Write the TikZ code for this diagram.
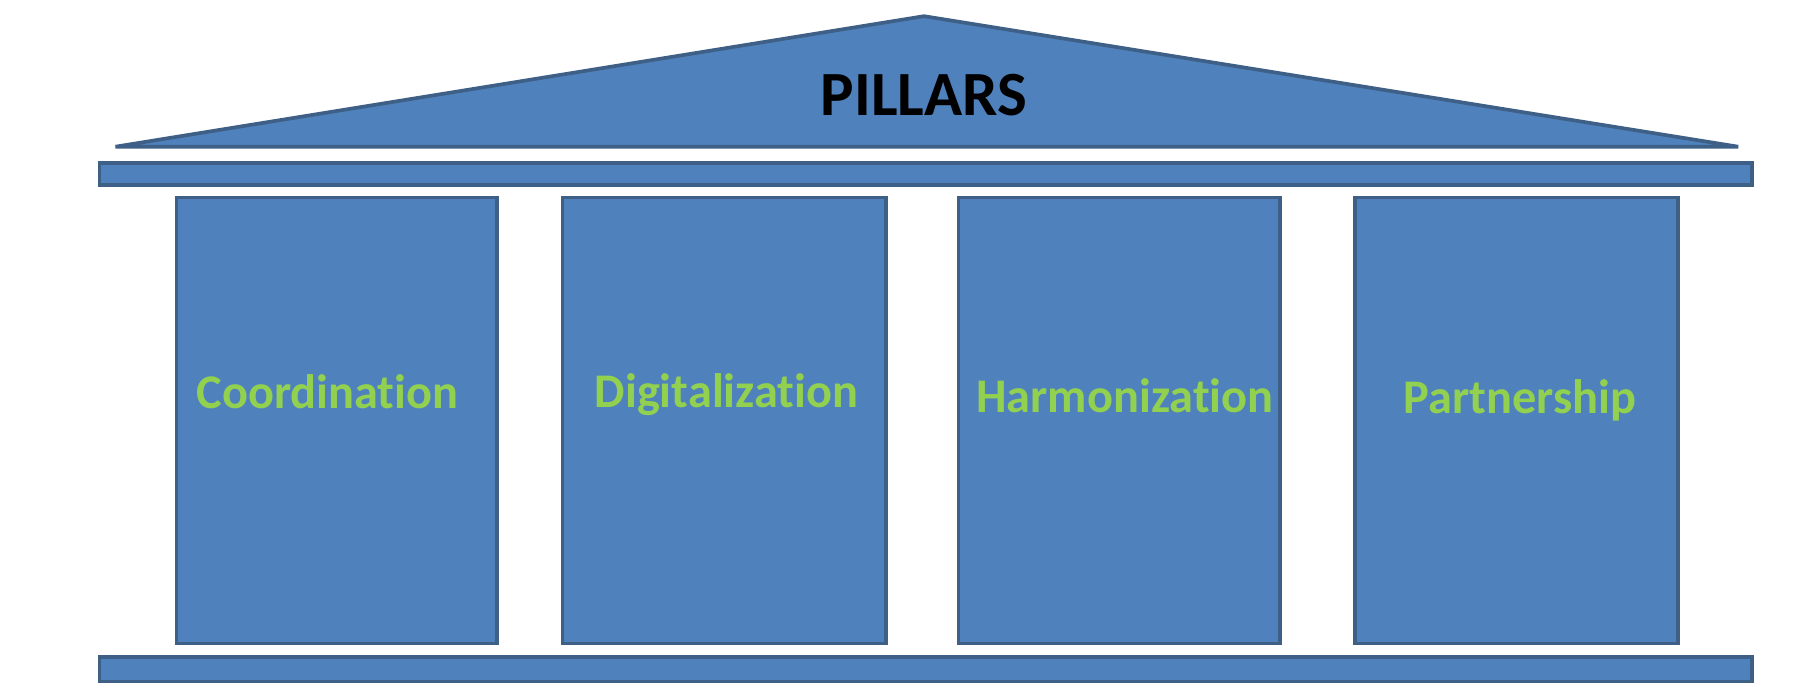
\documentclass[tikz,border=0pt]{standalone}
\usepackage{fontspec}
\setmainfont[Ligatures=NoCommon]{Carlito}
\usepackage{tikz}

\definecolor{roofblue}{HTML}{4F81BD}
\definecolor{edgeblue}{HTML}{3E5F86}
\definecolor{labelgreen}{HTML}{92D050}

\tikzset{
  part/.style={fill=roofblue, draw=edgeblue, line width=0.9pt},
  pillar/.style={part, rectangle, inner sep=0pt, minimum height=3.86cm},
  pillarlabel/.style={text=labelgreen, font=\fontsize{11.9}{14}\selectfont\bfseries, inner sep=0pt}
}

\begin{document}
\begin{tikzpicture}[x=0.01cm, y=-0.01cm]
            \useasboundingbox (0,0) rectangle (1568,597);

            % Roof
            \draw[part] (100,127) -- (800,14) -- (1505,127) -- cycle;
            \node[font=\fontsize{15.5}{18}\selectfont\bfseries] (title) at (800,82) {PILLARS};

            % Top and bottom beams
            \draw[part] (86,141) rectangle (1517,160);
            \draw[part] (86,569) rectangle (1517,590);

            % Pillars
            \node[pillar, minimum width=2.77cm] (coord) at (291.5,364) {};
            \node[pillar, minimum width=2.80cm] (digit) at (627,364) {};
            \node[pillar, minimum width=2.78cm] (harmo) at (969,364) {};
            \node[pillar, minimum width=2.80cm] (partn) at (1313,364) {};

            % Labels
            \node[pillarlabel] (coordtext) at ([xshift=-0.08cm, yshift=0.25cm]coord.center) {Coordination};
            \node[pillarlabel] (digittext) at ([xshift=0.02cm, yshift=0.22cm]digit.center) {Digitalization};
            \node[pillarlabel] (harmotext) at ([xshift=0.05cm, yshift=0.21cm]harmo.center) {Harmonization};
            \node[pillarlabel] (partntext) at ([xshift=0.03cm, yshift=0.17cm]partn.center) {Partnership};

        \end{tikzpicture}
\end{document}
